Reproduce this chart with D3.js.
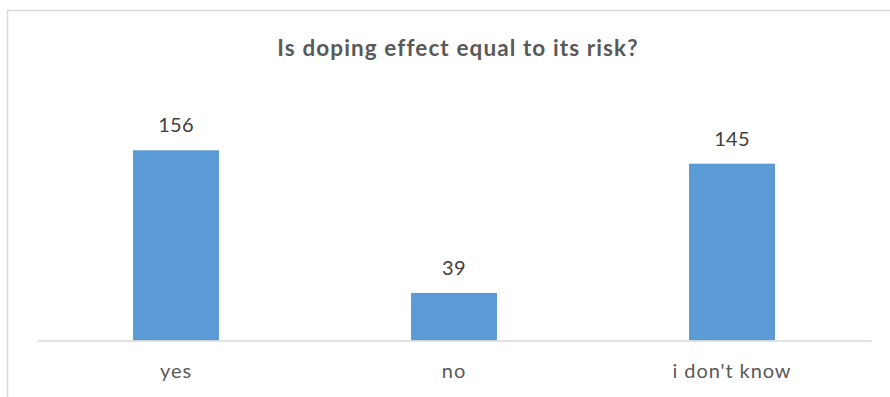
<!DOCTYPE html>
<html>
<head>
<meta charset="utf-8">
<script src="https://cdn.jsdelivr.net/npm/d3@7"></script>
<style>
  html, body { margin: 0; padding: 0; background: #fff; }
  svg { display: block; }
</style>
</head>
<body>
<script>
const categories = ["yes", "no", "i don't know"];
const values = [156, 39, 145];
const title = "Is doping effect equal to its risk?";
const yMax = 180;

const W = 890, H = 397;
const svg = d3.select("body").append("svg").attr("width", W).attr("height", H);

// chart border
svg.append("rect")
  .attr("x", 7.5).attr("y", 10.5)
  .attr("width", W + 20).attr("height", H + 20)
  .attr("fill", "#fff").attr("stroke", "#D9D9D9").attr("stroke-width", 1.5);

const x = d3.scaleBand().domain(categories).range([37, 871])
  .paddingInner(0.691).paddingOuter(0.3455);
const y = d3.scaleLinear().domain([0, yMax]).range([340.5, 121]);

// title
svg.append("text")
  .attr("x", 458).attr("y", 56)
  .attr("text-anchor", "middle")
  .attr("font-family", "Lato, 'Open Sans', sans-serif")
  .attr("font-weight", "bold")
  .attr("font-size", 22.5)
  .attr("letter-spacing", 1.1)
  .attr("fill", "#595959")
  .text(title);

// bars
svg.selectAll("rect.bar").data(values).enter().append("rect")
  .attr("class", "bar")
  .attr("x", (d, i) => x(categories[i]))
  .attr("width", x.bandwidth())
  .attr("y", d => y(d))
  .attr("height", d => y(0) - y(d))
  .attr("fill", "#5B9BD5");

// data labels
svg.selectAll("text.val").data(values).enter().append("text")
  .attr("class", "val")
  .attr("x", (d, i) => x(categories[i]) + x.bandwidth() / 2)
  .attr("y", d => y(d) - 18)
  .attr("text-anchor", "middle")
  .attr("font-family", "Lato, 'Open Sans', sans-serif")
  .attr("font-size", 20)
  .attr("letter-spacing", 0.3)
  .attr("fill", "#404040")
  .text(d => d);

// x axis
const xAxis = d3.axisBottom(x).tickSize(0).tickPadding(23);
const gx = svg.append("g").attr("transform", `translate(0,${y(0)})`).call(xAxis);
gx.select(".domain").attr("stroke", "#D9D9D9").attr("stroke-width", 1.5);
gx.selectAll("text")
  .attr("font-family", "Lato, 'Open Sans', sans-serif")
  .attr("font-size", 20)
  .attr("letter-spacing", 0.9)
  .attr("fill", "#595959")
  .attr("dy", "0.71em");
</script>
</body>
</html>
